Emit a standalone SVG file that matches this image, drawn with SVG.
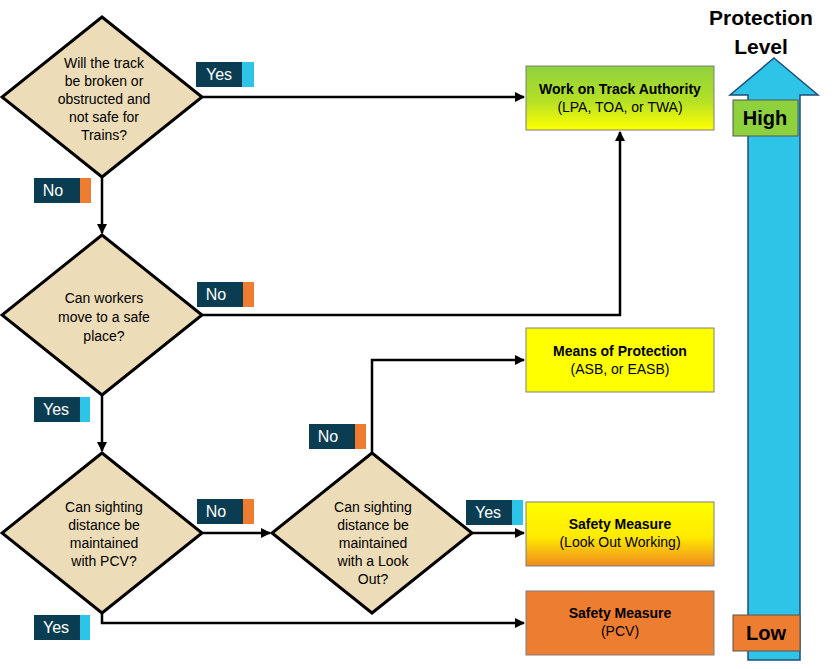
<svg xmlns="http://www.w3.org/2000/svg" width="832" height="669" viewBox="0 0 832 669">
<defs>
<linearGradient id="gGreen" x1="0" y1="0" x2="0" y2="1"><stop offset="0" stop-color="#8ed13e"/><stop offset="0.55" stop-color="#b5e025"/><stop offset="1" stop-color="#ffff00"/></linearGradient>
<linearGradient id="gOrange" x1="0" y1="0" x2="0" y2="1"><stop offset="0" stop-color="#ffff00"/><stop offset="0.55" stop-color="#ffea00"/><stop offset="1" stop-color="#f08a20"/></linearGradient>
<marker id="ah" markerWidth="10" markerHeight="10" refX="9" refY="5" orient="auto" markerUnits="userSpaceOnUse"><path d="M0,0 L10,5 L0,10 z" fill="#000"/></marker>
<style>
.dia{fill:#eddcb8;stroke:#000;stroke-width:3}
.dt{font-family:"Liberation Sans",Arial,sans-serif;font-size:14px;text-anchor:middle;fill:#000}
.box{stroke:#7f7f7f;stroke-width:1}
.bt{font-family:"Liberation Sans",Arial,sans-serif;font-size:14px;font-weight:bold;text-anchor:middle}
.bs{font-family:"Liberation Sans",Arial,sans-serif;font-size:14px;text-anchor:middle}
.con{fill:none;stroke:#000;stroke-width:2.5}
.lb{fill:#0b3d52}
.lt{font-family:"Liberation Sans",Arial,sans-serif;font-size:16px;fill:#fff;text-anchor:middle}
.cy{fill:#2ec4e8}.or{fill:#ee7d31}
</style>
</defs>
<rect width="832" height="669" fill="#fff"/>
<g id="connectors">
<path class="con" d="M202,97 H524" marker-end="url(#ah)"/>
<path class="con" d="M102,177 V233" marker-end="url(#ah)"/>
<path class="con" d="M202,315 H620 V132" marker-end="url(#ah)"/>
<path class="con" d="M102,395 V451" marker-end="url(#ah)"/>
<path class="con" d="M202,533 H270" marker-end="url(#ah)"/>
<path class="con" d="M372,453 V360 H524" marker-end="url(#ah)"/>
<path class="con" d="M472,533 H524" marker-end="url(#ah)"/>
<path class="con" d="M102,613 V623 H524" marker-end="url(#ah)"/>
</g>
<g id="d1"><polygon class="dia" points="102,17 202,97 102,177 2,97"/>
<text class="dt"><tspan x="104" y="68">Will the track</tspan><tspan x="104" y="86">be broken or</tspan><tspan x="104" y="104">obstructed and</tspan><tspan x="104" y="122">not safe for</tspan><tspan x="104" y="140">Trains?</tspan></text></g>
<g id="d2"><polygon class="dia" points="102,235 202,315 102,395 2,315"/>
<text class="dt"><tspan x="104" y="303">Can workers</tspan><tspan x="104" y="322">move to a safe</tspan><tspan x="104" y="341">place?</tspan></text></g>
<g id="d3"><polygon class="dia" points="102,453 202,533 102,613 2,533"/>
<text class="dt"><tspan x="104" y="512">Can sighting</tspan><tspan x="104" y="530">distance be</tspan><tspan x="104" y="548">maintained</tspan><tspan x="104" y="566">with PCV?</tspan></text></g>
<g id="d4"><polygon class="dia" points="372,453 472,533 372,613 272,533"/>
<text class="dt"><tspan x="373" y="512">Can sighting</tspan><tspan x="373" y="530">distance be</tspan><tspan x="373" y="548">maintained</tspan><tspan x="373" y="566">with a Look</tspan><tspan x="373" y="584">Out?</tspan></text></g>
<g id="b1"><rect class="box" x="526" y="66" width="188" height="64" fill="url(#gGreen)"/><text class="bt" x="620" y="94">Work on Track Authority</text><text class="bs" x="620" y="112">(LPA, TOA, or TWA)</text></g>
<g id="b2"><rect class="box" x="526" y="328" width="188" height="64" fill="#ffff00"/><text class="bt" x="620" y="356">Means of Protection</text><text class="bs" x="620" y="374">(ASB, or EASB)</text></g>
<g id="b3"><rect class="box" x="526" y="502" width="188" height="64" fill="url(#gOrange)"/><text class="bt" x="620" y="529">Safety Measure</text><text class="bs" x="620" y="547">(Look Out Working)</text></g>
<g id="b4"><rect class="box" x="526" y="591" width="188" height="64" fill="#ed7d31"/><text class="bt" x="620" y="618">Safety Measure</text><text class="bs" x="620" y="636">(PCV)</text></g>
<g id="labels">
<rect class="lb" x="196" y="62" width="46" height="25"/><rect class="cy" x="242" y="62" width="12" height="25"/><text class="lt" x="219" y="80">Yes</text>
<rect class="lb" x="34" y="178" width="46" height="25"/><rect class="or" x="80" y="178" width="11" height="25"/><text class="lt" x="53" y="196">No</text>
<rect class="lb" x="197" y="282" width="46" height="25"/><rect class="or" x="243" y="282" width="11" height="25"/><text class="lt" x="216" y="300">No</text>
<rect class="lb" x="34" y="397" width="46" height="25"/><rect class="cy" x="80" y="397" width="10" height="25"/><text class="lt" x="56" y="415">Yes</text>
<rect class="lb" x="309" y="424" width="46" height="25"/><rect class="or" x="355" y="424" width="11" height="25"/><text class="lt" x="328" y="442">No</text>
<rect class="lb" x="197" y="499" width="46" height="25"/><rect class="or" x="243" y="499" width="11" height="25"/><text class="lt" x="216" y="517">No</text>
<rect class="lb" x="466" y="500" width="46" height="25"/><rect class="cy" x="512" y="500" width="11" height="25"/><text class="lt" x="488" y="518">Yes</text>
<rect class="lb" x="34" y="615" width="46" height="25"/><rect class="cy" x="80" y="615" width="10" height="25"/><text class="lt" x="56" y="633">Yes</text>
</g>
<g id="level">
<polygon points="774,58 818,95 800,95 800,660 748,660 748,95 730,95" fill="#2ec4e8" stroke="#1f4e79" stroke-width="1.5"/>
<rect x="733" y="100" width="65" height="36" fill="#8ed13e" stroke="#555" stroke-width="1"/><text x="765" y="125" font-family="Liberation Sans,Arial,sans-serif" font-size="20" font-weight="bold" text-anchor="middle">High</text>
<rect x="733" y="615" width="67" height="36" fill="#ed7d31" stroke="#555" stroke-width="1"/><text x="766" y="640" font-family="Liberation Sans,Arial,sans-serif" font-size="20" font-weight="bold" text-anchor="middle">Low</text>
<text font-family="Liberation Sans,Arial,sans-serif" font-size="21" font-weight="bold" text-anchor="middle"><tspan x="761" y="25">Protection</tspan><tspan x="761" y="54">Level</tspan></text>
</g>
</svg>
